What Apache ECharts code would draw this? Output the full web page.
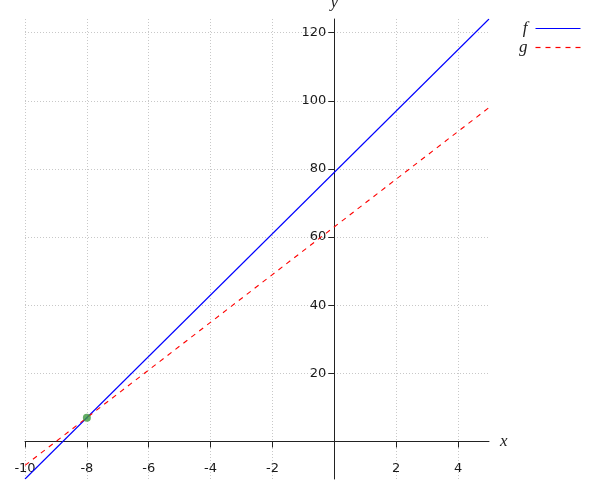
<!DOCTYPE html>
<html>
<head>
<meta charset="utf-8">
<script src="https://cdn.jsdelivr.net/npm/echarts@6/dist/echarts.min.js"></script>
<style>
html,body{margin:0;padding:0;background:#fff;}
#chart{width:600px;height:500px;}
</style>
</head>
<body>
<div id="chart"></div>
<script>
// Data
var xEnds = [-10, 5];
var yRange = [-11, 124];
var fValues = [-11, 124];
var gValues = [-7, 98];
var intersection = [-8, 7];
var xTicks = [-10, -8, -6, -4, -2, 2, 4];
var yTicks = [20, 40, 60, 80, 100, 120];

var fData = xEnds.map(function (x, i) { return [x, fValues[i]]; });
var gData = xEnds.map(function (x, i) { return [x, gValues[i]]; });

var W = 600, H = 500;
var gridL = 25, gridR = 111, gridT = 19, gridB = 21;
var plotW = W - gridL - gridR, plotH = H - gridT - gridB;
// place axes through the origin
var yAxisOffset = -plotW * (0 - xEnds[0]) / (xEnds[1] - xEnds[0]);
var xAxisOffset = -plotH * (0 - yRange[0]) / (yRange[1] - yRange[0]);

var labelFont = { fontFamily: 'DejaVu Sans', fontSize: 13, color: '#1a1a1a' };
var nameFont = { fontFamily: 'Liberation Serif', fontStyle: 'italic', fontSize: 17, color: '#222' };
var splitStyle = { show: true, lineStyle: { color: '#c8c8c8', type: [1, 2], width: 1 } };

var chart = echarts.init(document.getElementById('chart'), null, { renderer: 'canvas' });
chart.setOption({
  animation: false,
  backgroundColor: '#fff',
  grid: { left: gridL, right: gridR, top: gridT, bottom: gridB, containLabel: false, outerBoundsMode: 'none' },
  legend: {
    data: [
      { name: 'f', lineStyle: { width: 1.2 } },
      { name: 'g', lineStyle: { type: [5, 5], width: 1.2 } }
    ],
    orient: 'vertical',
    left: 514,
    top: 15,
    align: 'right',
    itemWidth: 45,
    itemHeight: 12,
    itemGap: 2,
    itemStyle: { color: 'transparent', borderWidth: 0 },
    textStyle: Object.assign({ padding: [0, 3, 0, 0] }, nameFont)
  },
  xAxis: {
    type: 'value',
    min: xEnds[0],
    max: xEnds[1],
    position: 'bottom',
    offset: xAxisOffset,
    name: 'x',
    nameLocation: 'end',
    nameGap: 11,
    nameTextStyle: nameFont,
    axisLine: { onZero: false, lineStyle: { color: '#222', width: 1 } },
    axisTick: { show: true, length: 6, customValues: xTicks, lineStyle: { color: '#222' } },
    axisLabel: Object.assign({ customValues: xTicks, margin: 21 }, labelFont),
    splitLine: splitStyle
  },
  yAxis: {
    type: 'value',
    min: yRange[0],
    max: yRange[1],
    position: 'left',
    offset: yAxisOffset,
    name: 'y',
    nameLocation: 'end',
    nameGap: 8,
    nameTextStyle: nameFont,
    axisLine: { onZero: false, lineStyle: { color: '#222', width: 1 } },
    axisTick: { show: true, length: 6, customValues: yTicks, lineStyle: { color: '#222' } },
    axisLabel: Object.assign({ customValues: yTicks, margin: 8 }, labelFont),
    splitLine: splitStyle
  },
  series: [
    {
      name: 'f', type: 'line', data: fData, symbol: 'none',
      lineStyle: { color: '#0000ff', width: 1.1 }, itemStyle: { color: '#0000ff' }
    },
    {
      name: 'g', type: 'line', data: gData, symbol: 'none',
      lineStyle: { color: '#ff0000', width: 1.1, type: [5, 5] }, itemStyle: { color: '#ff0000' }
    },
    {
      name: 'point', type: 'scatter', data: [intersection], symbolSize: 8,
      itemStyle: { color: '#3f9a3f' }, z: 5
    }
  ]
});
</script>
</body>
</html>
